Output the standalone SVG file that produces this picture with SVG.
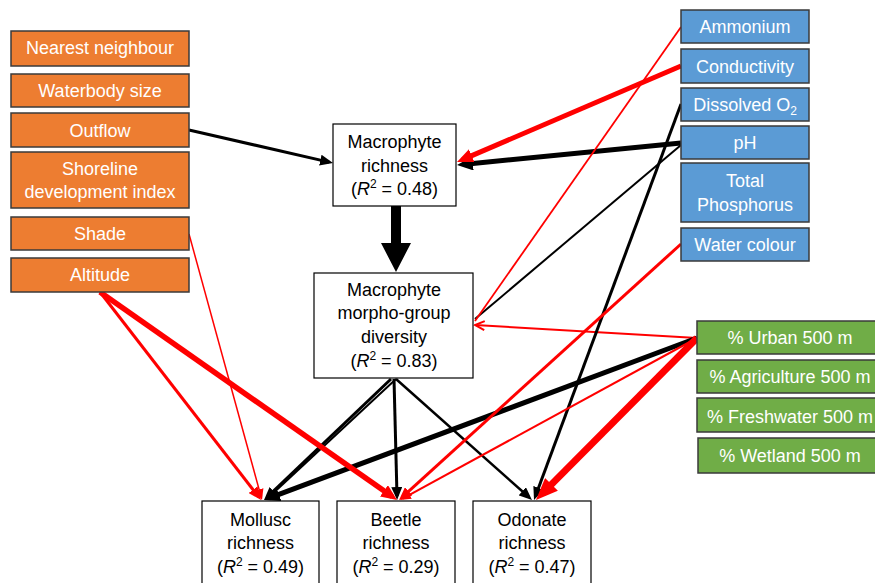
<svg xmlns="http://www.w3.org/2000/svg" width="875" height="583" viewBox="0 0 875 583">
<style>
text{font-family:"Liberation Sans",Arial,sans-serif;font-size:18px;text-anchor:middle}
.w{fill:#fff}
.k{fill:#000}
.or{fill:#ED7D31;stroke:#3a3a3a;stroke-width:1.5}
.bl{fill:#5B9BD5;stroke:#3a3a3a;stroke-width:1.5}
.gr{fill:#70AD47;stroke:#3a3a3a;stroke-width:1.5}
.wb{fill:#fff;stroke:#000;stroke-width:1.2}
.r{stroke:#FF0000;fill:none}
.b{stroke:#000;fill:none}
.sub{font-size:12px}
</style>
<defs>
<marker id="rs" markerUnits="userSpaceOnUse" markerWidth="11" markerHeight="9" viewBox="0 0 11 9" refX="8" refY="4.5" orient="auto"><path d="M0,0L11,4.5L0,9z" fill="#FF0000"/></marker>
<marker id="ro" markerUnits="userSpaceOnUse" markerWidth="12" markerHeight="12" viewBox="0 0 12 12" refX="10.5" refY="6" orient="auto"><path d="M1,1.5L10.5,6L1,10.5" fill="none" stroke="#FF0000" stroke-width="2"/></marker>
<marker id="rm" markerUnits="userSpaceOnUse" markerWidth="13" markerHeight="11" viewBox="0 0 13 11" refX="9" refY="5.5" orient="auto"><path d="M0,0L13,5.5L0,11z" fill="#FF0000"/></marker>
<marker id="rml" markerUnits="userSpaceOnUse" markerWidth="16" markerHeight="14" viewBox="0 0 16 14" refX="10" refY="7" orient="auto"><path d="M0,0L16,7L0,14z" fill="#FF0000"/></marker>
<marker id="rl" markerUnits="userSpaceOnUse" markerWidth="22" markerHeight="18" viewBox="0 0 22 18" refX="13" refY="9" orient="auto"><path d="M0,0L22,9L0,18z" fill="#FF0000"/></marker>
<marker id="bs" markerUnits="userSpaceOnUse" markerWidth="11" markerHeight="9" viewBox="0 0 11 9" refX="8" refY="4.5" orient="auto"><path d="M0,0L11,4.5L0,9z" fill="#000"/></marker>
<marker id="bm" markerUnits="userSpaceOnUse" markerWidth="13" markerHeight="11" viewBox="0 0 13 11" refX="9" refY="5.5" orient="auto"><path d="M0,0L13,5.5L0,11z" fill="#000"/></marker>
<marker id="bml" markerUnits="userSpaceOnUse" markerWidth="16" markerHeight="14" viewBox="0 0 16 14" refX="10" refY="7" orient="auto"><path d="M0,0L16,7L0,14z" fill="#000"/></marker>
</defs>

<g id="connectors">
<path class="b" stroke-width="3" marker-end="url(#bm)" d="M189,130L329.1,162.1"/>
<path class="b" stroke-width="5" marker-end="url(#bml)" d="M681,143L463,164.4"/>
<path class="r" stroke-width="5" marker-end="url(#rml)" d="M681,66L462.5,159.6"/>
<path class="b" stroke-width="2" d="M681,145L475,319"/>
<path class="r" stroke-width="1.8" d="M681,27L475,321"/>
<path class="r" stroke-width="2" marker-end="url(#ro)" d="M697,338L475,325"/>
<path class="b" stroke-width="3" marker-end="url(#bm)" d="M391,379L266.9,497.3"/>
<path class="b" stroke-width="2" marker-end="url(#bs)" d="M396,379L268,498"/>
<path class="b" stroke-width="3" marker-end="url(#bm)" d="M394,379L397,496"/>
<path class="b" stroke-width="2.5" marker-end="url(#bm)" d="M396,379L529,497.3"/>
<path class="b" stroke-width="3" marker-end="url(#bm)" d="M681,104L535.4,496.3"/>
<path class="b" stroke-width="5" marker-end="url(#bml)" d="M697,338L269.6,497.9"/>
<path class="r" stroke-width="3" marker-end="url(#rm)" d="M681,244L402,497.3"/>
<path class="r" stroke-width="2" marker-end="url(#rs)" d="M697,338L402.6,498.6"/>
<path class="r" stroke-width="7" marker-end="url(#rl)" d="M697,338L542.3,493.6"/>
<path class="r" stroke-width="3" marker-end="url(#rm)" d="M100,292L258.6,496.8"/>
<path class="r" stroke-width="5.5" marker-end="url(#rml)" d="M100,292L392.1,496.6"/>
<path class="r" stroke-width="1.5" marker-end="url(#rs)" d="M189,234L261.2,497.1"/>
<polygon points="391,206 401,206 401,243 411,243 396,272 381,243 391,243" fill="#000"/>
</g>

<g id="nearest-neighbour"><rect class="or" x="11" y="31" width="178" height="35"/><text class="w" x="100" y="54">Nearest neighbour</text></g>
<g id="waterbody-size"><rect class="or" x="11" y="74" width="178" height="33"/><text class="w" x="100" y="97">Waterbody size</text></g>
<g id="outflow"><rect class="or" x="11" y="113" width="178" height="34"/><text class="w" x="100" y="137">Outflow</text></g>
<g id="shoreline"><rect class="or" x="11" y="152" width="178" height="56"/><text class="w" x="100" y="175">Shoreline</text><text class="w" x="100" y="198">development index</text></g>
<g id="shade"><rect class="or" x="11" y="217" width="178" height="33"/><text class="w" x="100" y="240">Shade</text></g>
<g id="altitude"><rect class="or" x="11" y="258" width="178" height="34"/><text class="w" x="100" y="281">Altitude</text></g>

<g id="ammonium"><rect class="bl" x="681" y="10" width="128" height="33"/><text class="w" x="745" y="33">Ammonium</text></g>
<g id="conductivity"><rect class="bl" x="681" y="49" width="128" height="34"/><text class="w" x="745" y="73">Conductivity</text></g>
<g id="dissolved-o2"><rect class="bl" x="681" y="88" width="128" height="33"/><text class="w" x="745" y="111">Dissolved O<tspan class="sub" dy="4">2</tspan></text></g>
<g id="ph"><rect class="bl" x="681" y="126" width="128" height="33"/><text class="w" x="745" y="149">pH</text></g>
<g id="total-phosphorus"><rect class="bl" x="681" y="163" width="128" height="59"/><text class="w" x="745" y="187">Total</text><text class="w" x="745" y="211">Phosphorus</text></g>
<g id="water-colour"><rect class="bl" x="681" y="228" width="128" height="33"/><text class="w" x="745" y="251">Water colour</text></g>

<g id="urban"><rect class="gr" x="697" y="321" width="186" height="33"/><text class="w" x="790" y="344">% Urban 500 m</text></g>
<g id="agriculture"><rect class="gr" x="697" y="360" width="186" height="33"/><text class="w" x="790" y="383">% Agriculture 500 m</text></g>
<g id="freshwater"><rect class="gr" x="697" y="398" width="186" height="34"/><text class="w" x="790" y="423">% Freshwater 500 m</text></g>
<g id="wetland"><rect class="gr" x="698" y="438" width="186" height="35"/><text class="w" x="790" y="462">% Wetland 500 m</text></g>

<g id="macrophyte-richness"><rect class="wb" x="333" y="124" width="123" height="82"/><text class="k" x="394.5" y="148">Macrophyte</text><text class="k" x="394.5" y="172">richness</text><text class="k" x="394.5" y="195">(<tspan font-style="italic">R</tspan><tspan class="sub" dy="-7">2</tspan><tspan dy="7"> = 0.48)</tspan></text></g>
<g id="macrophyte-diversity"><rect class="wb" x="314" y="273" width="159" height="105"/><text class="k" x="394" y="296">Macrophyte</text><text class="k" x="394" y="319">morpho-group</text><text class="k" x="394" y="343">diversity</text><text class="k" x="394" y="367">(<tspan font-style="italic">R</tspan><tspan class="sub" dy="-7">2</tspan><tspan dy="7"> = 0.83)</tspan></text></g>

<g id="mollusc"><rect class="wb" x="202" y="501" width="117" height="95"/><text class="k" x="260.5" y="526">Mollusc</text><text class="k" x="260.5" y="549">richness</text><text class="k" x="260.5" y="573">(<tspan font-style="italic">R</tspan><tspan class="sub" dy="-7">2</tspan><tspan dy="7"> = 0.49)</tspan></text></g>
<g id="beetle"><rect class="wb" x="337" y="501" width="118" height="95"/><text class="k" x="396" y="526">Beetle</text><text class="k" x="396" y="549">richness</text><text class="k" x="396" y="573">(<tspan font-style="italic">R</tspan><tspan class="sub" dy="-7">2</tspan><tspan dy="7"> = 0.29)</tspan></text></g>
<g id="odonate"><rect class="wb" x="473" y="501" width="118" height="95"/><text class="k" x="532" y="526">Odonate</text><text class="k" x="532" y="549">richness</text><text class="k" x="532" y="573">(<tspan font-style="italic">R</tspan><tspan class="sub" dy="-7">2</tspan><tspan dy="7"> = 0.47)</tspan></text></g>
</svg>
